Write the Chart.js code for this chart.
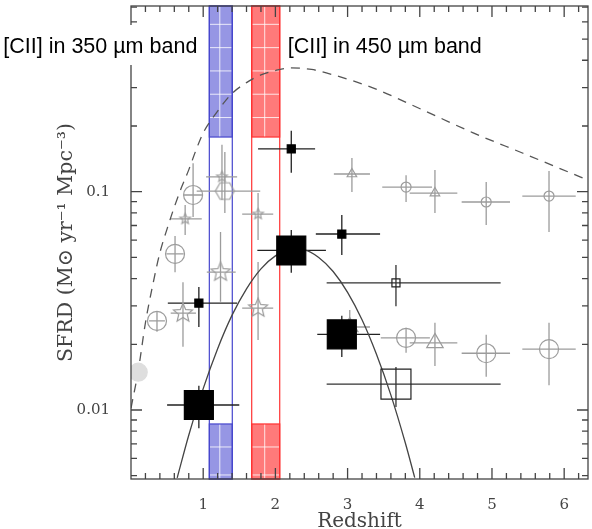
<!DOCTYPE html>
<html>
<head>
<meta charset="utf-8">
<script src="https://cdn.jsdelivr.net/npm/chart.js@4.4.1/dist/chart.umd.min.js"></script>
<style>
  html, body { margin: 0; padding: 0; background: #fff; }
</style>
</head>
<body>
<canvas id="sfrd" width="592" height="529"></canvas>
<script>
/* SFRD vs redshift, with the [CII] windows of the 350 and 450 um bands */

// each row: redshift, SFRD, z low, z high, SFRD low, SFRD high
const greyCirclesSmall = [
  [3.81, 0.105, 3.48, 4.17, 0.0897, 0.119],
  [4.92, 0.0897, 4.58, 5.25, 0.0704, 0.1107],
  [5.79, 0.0955, 5.42, 6.16, 0.0653, 0.1244]
];
const greyCirclesBig = [
  [0.36, 0.0256, 0.25, 0.47, 0.0228, 0.0281],
  [0.61, 0.0519, 0.49, 0.73, 0.0428, 0.0626],
  [0.86, 0.0966, 0.73, 0.99, 0.0766, 0.135],
  [3.81, 0.0214, 3.46, 4.14, 0.0183, 0.0238],
  [4.92, 0.0182, 4.58, 5.25, 0.0142, 0.0221],
  [5.79, 0.0190, 5.42, 6.16, 0.0130, 0.0251]
];
const greyTrianglesSmall = [
  [3.06, 0.1205, 2.81, 3.31, 0.0997, 0.1426],
  [4.21, 0.0986, 3.86, 4.52, 0.0799, 0.1257]
];
const greyTrianglesBig = [
  [3.03, 0.0240, 2.80, 3.31, 0.0203, 0.0287],
  [4.21, 0.0203, 3.86, 4.52, 0.0159, 0.0251]
];
const greyStarsSmall = [
  [0.75, 0.075, 0.54, 0.98, 0.0634, 0.0869],
  [1.26, 0.117, 1.04, 1.47, 0.0916, 0.164],
  [1.76, 0.079, 1.54, 1.97, 0.0601, 0.0986]
];
const greyStarsBig = [
  [0.72, 0.0278, 0.55, 0.90, 0.0195, 0.0385],
  [1.24, 0.0428, 1.05, 1.45, 0.0313, 0.0653],
  [1.76, 0.0293, 1.54, 1.97, 0.0209, 0.0476]
];
const greyHexagons = [
  [1.30, 0.1007, 0.91, 1.79, 0.0798, 0.152]
];
const lightDisks = [
  [0.10, 0.0149]
];
const blackSquaresSmall = [
  [0.94, 0.0309, 0.51, 1.47, 0.0240, 0.0366],
  [2.22, 0.157, 1.76, 2.55, 0.122, 0.190],
  [2.92, 0.064, 2.56, 3.45, 0.0513, 0.0782]
];
const blackSquaresBig = [
  [0.94, 0.01054, 0.50, 1.50, 0.00826, 0.0129],
  [2.22, 0.0538, 1.75, 2.70, 0.0425, 0.0668],
  [2.92, 0.0222, 2.58, 3.45, 0.0175, 0.0270]
];
const openSquaresSmall = [
  [3.67, 0.0382, 2.71, 5.12, 0.0299, 0.0461]
];
const openSquaresBig = [
  [3.67, 0.01315, 2.71, 5.12, 0.01033, 0.01574]
];

// dashed curve (total SFRD) and solid curve (fit to the black squares)
const dashedZ = [0.0, 0.1, 0.2, 0.3, 0.4, 0.5, 0.6, 0.7, 0.8, 0.9, 1.0, 1.2, 1.4, 1.6, 1.8, 2.0, 2.2, 2.5, 2.8, 3.35, 4.04, 4.74, 5.43, 6.22, 6.33];
const dashedSFRD = [0.0102, 0.0151, 0.0251, 0.0372, 0.0525, 0.0676, 0.0851, 0.1047, 0.1259, 0.155, 0.186, 0.234, 0.282, 0.316, 0.343, 0.359, 0.369, 0.363, 0.343, 0.299, 0.237, 0.186, 0.150, 0.117, 0.113];
const solidZ = [0.64, 0.8, 1.0, 1.2, 1.4, 1.6, 1.8, 2.0, 2.2, 2.4, 2.6, 2.8, 3.0, 3.2, 3.4, 3.6, 3.8, 3.93];
const solidSFRD = [0.00489, 0.00766, 0.01253, 0.0191, 0.0272, 0.0359, 0.0443, 0.0508, 0.0542, 0.0540, 0.0500, 0.0431, 0.0346, 0.0259, 0.0180, 0.0117, 0.00706, 0.0049];

// [CII] windows (redshift range) and the shaded SFRD limits
const band350 = [1.085, 1.403];
const band450 = [1.672, 2.06];
const bandUpperFrom = 0.178;
const bandLowerTo = 0.00863;

// axes
const xRange = [0, 6.33];
const yRange = [0.00483, 0.709];
const xTickValues = [1, 2, 3, 4, 5, 6];
const xTickLabels = ['1', '2', '3', '4', '5', '6'];
const yTickValues = [0.01, 0.1];
const yTickLabels = ['0.01', '0.1'];

const GREY = '#9c9c9c';
const INK = '#444';

function shapeCanvas(kind, r, color) {
  const s = Math.ceil(r * 2 + 4);
  const c = document.createElement('canvas');
  c.width = c.height = s;
  const g = c.getContext('2d');
  g.translate(s / 2, s / 2);
  g.beginPath();
  if (kind === 'star') {
    for (let i = 0; i < 10; i++) {
      const rr = i % 2 ? r * 0.45 : r;
      const a = -Math.PI / 2 + i * Math.PI / 5;
      g.lineTo(rr * Math.cos(a), rr * Math.sin(a));
    }
  } else {
    for (let i = 0; i < 6; i++) {
      const a = i * Math.PI / 3;
      g.lineTo(r * Math.cos(a), r * Math.sin(a));
    }
  }
  g.closePath();
  g.strokeStyle = color;
  g.lineWidth = 1.2;
  g.stroke();
  return c;
}

function pointSet(rows, style, radius, line, fill, errColor) {
  return {
    type: 'scatter',
    data: rows.map(r => ({ x: r[0], y: r[1] })),
    errors: rows[0].length > 2 ? rows : null,
    errorColor: errColor,
    pointStyle: style,
    pointRadius: radius,
    pointBorderColor: line,
    pointBackgroundColor: fill,
    pointBorderWidth: 1.2,
    showLine: false
  };
}

function curve(zs, vals, dash, color) {
  return {
    type: 'scatter',
    data: zs.map((z, i) => ({ x: z, y: vals[i] })),
    showLine: true,
    borderColor: color,
    borderWidth: 1.3,
    borderDash: dash,
    pointRadius: 0,
    cubicInterpolationMode: 'monotone'
  };
}

// shaded [CII] windows drawn through the scales
const bandsPlugin = {
  id: 'bands',
  beforeDatasetsDraw(chart) {
    const { ctx, chartArea: a, scales: { x, y } } = chart;
    const bands = [
      { z: band350, fill: 'rgb(150,150,228)', line: 'rgb(70,70,205)' },
      { z: band450, fill: 'rgb(255,122,122)', line: 'rgb(255,50,50)' }
    ];
    ctx.save();
    bands.forEach(b => {
      const x0 = x.getPixelForValue(b.z[0]), x1 = x.getPixelForValue(b.z[1]);
      const yTop = a.top, yBot = a.bottom;
      const yUp = y.getPixelForValue(bandUpperFrom);
      const yLow = y.getPixelForValue(bandLowerTo);
      ctx.fillStyle = b.fill;
      ctx.fillRect(x0, yTop, x1 - x0, yUp - yTop);
      ctx.fillRect(x0, yLow, x1 - x0, yBot - yLow);
      // faint white grid over the fills
      ctx.strokeStyle = 'rgba(255,255,255,0.8)';
      ctx.lineWidth = 1;
      ctx.beginPath();
      const xm = (x0 + x1) / 2 - 1;
      ctx.moveTo(xm, yTop); ctx.lineTo(xm, yUp);
      ctx.moveTo(xm, yLow); ctx.lineTo(xm, yBot);
      for (let py = yUp - 19.5; py > yTop + 12; py -= 23.3) {
        ctx.moveTo(x0, py); ctx.lineTo(x1, py);
      }
      for (let py = yLow + 23; py < yBot; py += 28) {
        ctx.moveTo(x0, py); ctx.lineTo(x1, py);
      }
      ctx.stroke();
      ctx.strokeStyle = b.line;
      ctx.lineWidth = 1.2;
      ctx.strokeRect(x0, yTop, x1 - x0, yBot - yTop);
      ctx.strokeRect(x0, yTop, x1 - x0, yUp - yTop);
      ctx.strokeRect(x0, yLow, x1 - x0, yBot - yLow);
    });
    ctx.restore();
  }
};

// error bars under the markers
const errorBarsPlugin = {
  id: 'errorBars',
  beforeDatasetsDraw(chart) {
    const { ctx, scales: { x, y } } = chart;
    chart.data.datasets.forEach(ds => {
      if (!ds.errors) return;
      ctx.save();
      ctx.strokeStyle = ds.errorColor;
      ctx.lineWidth = 1.3;
      ctx.beginPath();
      ds.errors.forEach(r => {
        const px = x.getPixelForValue(r[0]), py = y.getPixelForValue(r[1]);
        ctx.moveTo(x.getPixelForValue(r[2]), py);
        ctx.lineTo(x.getPixelForValue(r[3]), py);
        ctx.moveTo(px, y.getPixelForValue(r[4]));
        ctx.lineTo(px, y.getPixelForValue(r[5]));
      });
      ctx.stroke();
      ctx.restore();
    });
  }
};

// box frame with inward ticks on all four sides
const framePlugin = {
  id: 'frame',
  afterDatasetsDraw(chart) {
    const { ctx, chartArea: a, scales: { x, y } } = chart;
    ctx.save();
    ctx.strokeStyle = INK;
    ctx.lineWidth = 1.3;
    ctx.strokeRect(a.left, a.top, a.right - a.left, a.bottom - a.top);
    ctx.beginPath();
    for (let i = 1; i * 0.2 < x.max; i++) {
      const px = x.getPixelForValue(i * 0.2);
      const len = i % 5 === 0 ? 11 : 6;
      ctx.moveTo(px, a.bottom); ctx.lineTo(px, a.bottom - len);
      ctx.moveTo(px, a.top); ctx.lineTo(px, a.top + len);
    }
    for (let e = -3; e <= 0; e++) {
      for (let m = 1; m <= 9; m++) {
        const v = m * Math.pow(10, e);
        if (v < y.min || v > y.max) continue;
        const py = y.getPixelForValue(v);
        const len = m === 1 ? 11 : 6;
        ctx.moveTo(a.left, py); ctx.lineTo(a.left + len, py);
        ctx.moveTo(a.right, py); ctx.lineTo(a.right - len, py);
      }
    }
    ctx.stroke();
    ctx.restore();
  }
};

// band captions
const captionPlugin = {
  id: 'captions',
  afterDraw(chart) {
    const { ctx, scales: { x } } = chart;
    ctx.save();
    ctx.font = '21.5px "Liberation Sans", Arial, sans-serif';
    ctx.textBaseline = 'alphabetic';
    const left = '[CII] in 350 \u00b5m band';
    const right = '[CII] in 450 \u00b5m band';
    const lx = x.getPixelForValue(band350[0]) - 12;
    const w = ctx.measureText(left).width;
    ctx.fillStyle = '#fff';
    ctx.fillRect(lx - w - 2, 25, w + 6, 40);
    ctx.fillStyle = '#000';
    ctx.textAlign = 'right';
    ctx.fillText(left, lx, 53);
    ctx.textAlign = 'left';
    ctx.fillText(right, x.getPixelForValue(band450[1]) + 8, 53);
    ctx.restore();
  }
};

const serif = '"DejaVu Serif", "Liberation Serif", serif';

new Chart(document.getElementById('sfrd'), {
  type: 'scatter',
  data: {
    datasets: [
      pointSet(blackSquaresBig, 'rect', 20.5, '#000', '#000', '#222'),
      pointSet(blackSquaresSmall, 'rect', 5.7, '#000', '#000', '#222'),
      pointSet(openSquaresBig, 'rect', 21.2, '#222', 'rgba(0,0,0,0)', '#333'),
      pointSet(openSquaresSmall, 'rect', 5.7, '#222', 'rgba(0,0,0,0)', '#333'),
      pointSet(greyCirclesBig, 'circle', 9.5, GREY, 'rgba(0,0,0,0)', GREY),
      pointSet(greyCirclesSmall, 'circle', 5, GREY, 'rgba(0,0,0,0)', GREY),
      pointSet(greyTrianglesBig, 'triangle', 9.5, GREY, 'rgba(0,0,0,0)', GREY),
      pointSet(greyTrianglesSmall, 'triangle', 5.5, GREY, 'rgba(0,0,0,0)', GREY),
      pointSet(greyStarsBig, shapeCanvas('star', 10, GREY), 10, GREY, 'rgba(0,0,0,0)', GREY),
      pointSet(greyStarsSmall, shapeCanvas('star', 5.5, GREY), 5.5, GREY, 'rgba(0,0,0,0)', GREY),
      pointSet(greyHexagons, shapeCanvas('hex', 9.5, GREY), 9.5, GREY, 'rgba(0,0,0,0)', GREY),
      pointSet(lightDisks, 'circle', 9, '#dedede', '#dedede', null),
      curve(solidZ, solidSFRD, [], '#444'),
      curve(dashedZ, dashedSFRD, [9, 7], '#555')
    ]
  },
  options: {
    responsive: false,
    animation: false,
    events: [],
    layout: { autoPadding: false, padding: { top: 6, right: 4, left: 0, bottom: 0 } },
    plugins: { legend: { display: false }, tooltip: { enabled: false } },
    scales: {
      x: {
        type: 'linear',
        min: xRange[0],
        max: xRange[1],
        grid: { display: false },
        border: { display: false },
        afterBuildTicks: s => { s.ticks = xTickValues.map(v => ({ value: v })); },
        afterFit: s => { s.height = 50; s.paddingLeft = 0; s.paddingRight = 0; },
        ticks: {
          autoSkip: false,
          maxRotation: 0,
          padding: 9,
          color: INK,
          font: { family: serif, size: 15 },
          callback: (v, i) => xTickLabels[i]
        },
        title: {
          display: true,
          text: 'Redshift',
          color: INK,
          font: { family: serif, size: 20 },
          padding: { top: 0, bottom: -5 }
        }
      },
      y: {
        type: 'logarithmic',
        min: yRange[0],
        max: yRange[1],
        grid: { display: false },
        border: { display: false },
        afterBuildTicks: s => { s.ticks = yTickValues.map(v => ({ value: v })); },
        afterFit: s => { s.width = 131; s.paddingTop = 0; s.paddingBottom = 0; },
        ticks: {
          autoSkip: false,
          padding: 13,
          color: INK,
          font: { family: serif, size: 15 },
          callback: (v, i) => yTickLabels[i]
        },
        title: {
          display: true,
          text: 'SFRD (M\u2299 yr\u207b\u00b9 Mpc\u207b\u00b3)',
          color: INK,
          font: { family: serif, size: 20.5 },
          padding: { top: 54, bottom: 0 }
        }
      }
    }
  },
  plugins: [bandsPlugin, errorBarsPlugin, framePlugin, captionPlugin]
});
</script>
</body>
</html>
